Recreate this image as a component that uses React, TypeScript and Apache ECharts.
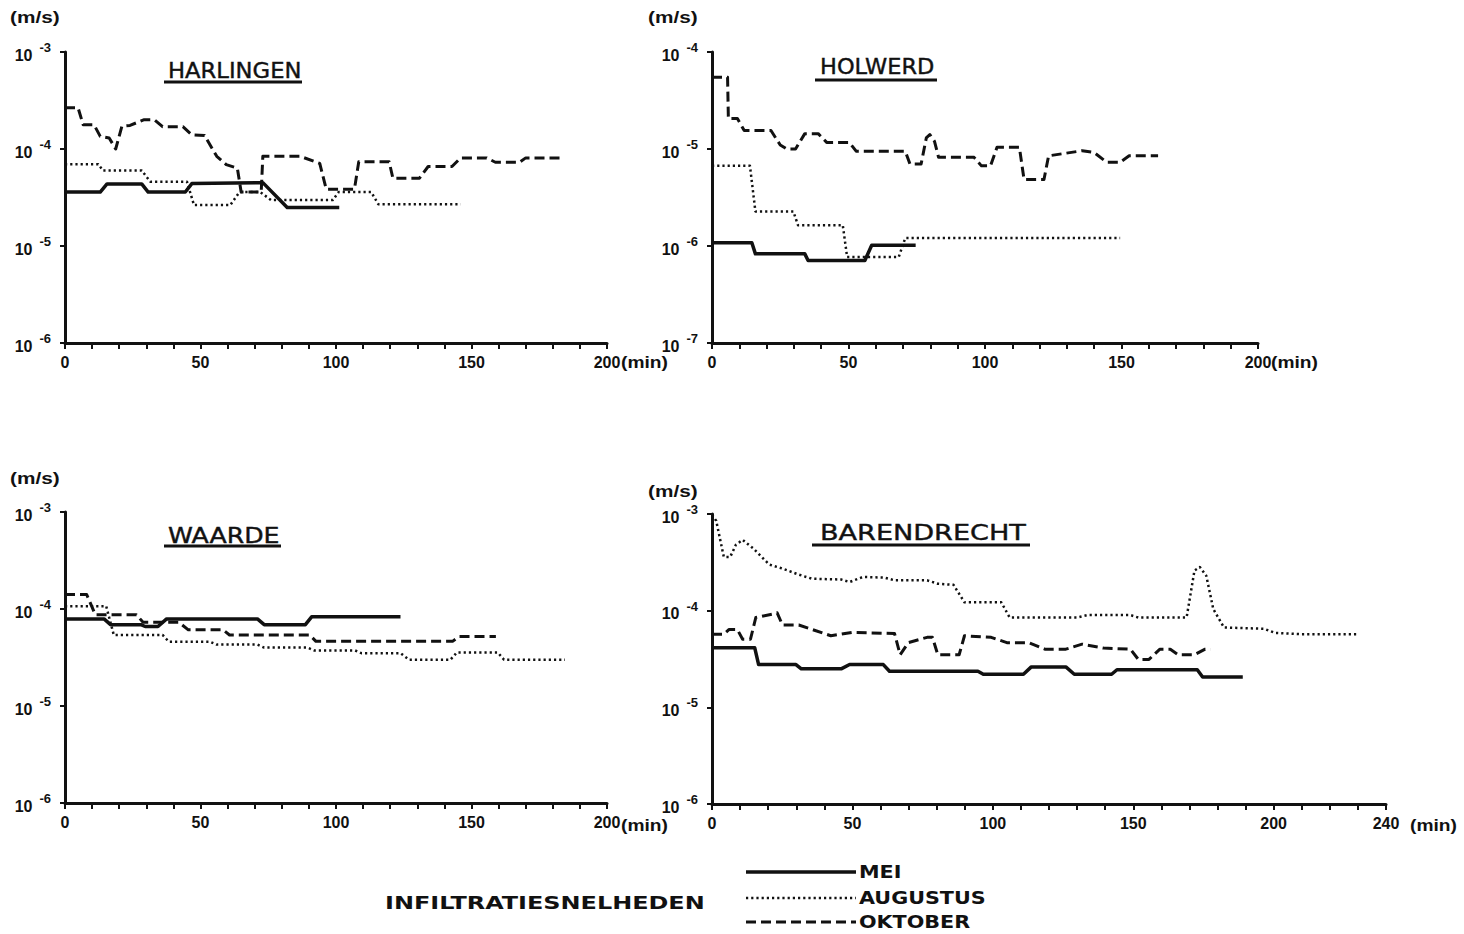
import React, { useEffect, useRef } from 'react';
import * as echarts from 'echarts';

type Pt = [number, number];

// ---------- data (minutes, infiltration rate m/s) ----------
const panelTitles = ['HARLINGEN', 'HOLWERD', 'WAARDE', 'BARENDRECHT'];
const seriesNames = ['MEI', 'AUGUSTUS', 'OKTOBER'];
const xMaxima = [200, 200, 200, 240];
const yMinExp = [-6, -7, -6, -6];
const yMaxExp = [-3, -4, -3, -3];
const xLabelStep = 50;
const legendTitle = 'INFILTRATIESNELHEDEN';
const yUnit = '(m/s)';
const xUnit = '(min)';

const harlingenMei: Pt[] = [
  [0, 3.6e-5], [13, 3.6e-5], [15.5, 4.36e-5], [28.3, 4.36e-5], [30.7, 3.6e-5], [44.4, 3.6e-5],
  [46.8, 4.4e-5], [73, 4.5e-5], [82, 2.5e-5], [101.2, 2.5e-5],
];
const harlingenAugustus: Pt[] = [
  [0, 6.98e-5], [12.3, 6.98e-5], [14, 6.0e-5], [28.3, 6.0e-5], [31.5, 4.6e-5], [45, 4.6e-5],
  [47.6, 2.64e-5], [61, 2.64e-5], [64.4, 3.6e-5], [72, 3.6e-5], [76, 2.98e-5], [98.8, 2.98e-5],
  [101, 3.6e-5], [113, 3.6e-5], [115.6, 2.7e-5], [146, 2.7e-5],
];
const harlingenOktober: Pt[] = [
  [0, 2.67e-4], [4.8, 2.67e-4], [6.7, 1.78e-4], [10.7, 1.78e-4], [13, 1.35e-4], [16.3, 1.3e-4],
  [18.7, 1.0e-4], [21, 1.72e-4], [24, 1.75e-4], [29, 2.0e-4], [33, 2.0e-4], [36, 1.7e-4],
  [43.5, 1.7e-4], [46.8, 1.4e-4], [51.5, 1.38e-4], [56, 8.4e-5], [59.5, 6.9e-5], [63.6, 6.35e-5],
  [65, 3.6e-5], [72.4, 3.6e-5], [73, 8.4e-5], [86.8, 8.4e-5], [94, 7.1e-5], [96.4, 3.85e-5],
  [106.8, 3.85e-5], [108.4, 7.4e-5], [119.6, 7.4e-5], [121, 5.0e-5], [130.8, 5.0e-5],
  [134, 6.6e-5], [142.8, 6.6e-5], [146, 8.1e-5], [155.6, 8.1e-5], [158.8, 7.3e-5],
  [167.7, 7.3e-5], [170, 8.1e-5], [182.9, 8.1e-5],
];

const holwerdMei: Pt[] = [
  [0, 1.08e-6], [14.6, 1.08e-6], [15.9, 8.3e-7], [34, 8.3e-7], [35.2, 7.1e-7], [56, 7.1e-7],
  [58.5, 1.02e-6], [74.6, 1.02e-6],
];
const holwerdAugustus: Pt[] = [
  [0, 6.7e-6], [13.9, 6.7e-6], [15.9, 2.27e-6], [29.8, 2.27e-6], [31.5, 1.64e-6], [47.9, 1.64e-6],
  [49.5, 7.7e-7], [68.4, 7.7e-7], [70.8, 1.21e-6], [149.5, 1.21e-6],
];
const holwerdOktober: Pt[] = [
  [0, 5.5e-5], [5.7, 5.5e-5], [6, 2.06e-5], [9.3, 2.06e-5], [11.8, 1.55e-5], [21.6, 1.55e-5],
  [25, 1.1e-5], [27.4, 1.0e-5], [30.6, 1.0e-5], [34, 1.44e-5], [38.9, 1.44e-5], [42, 1.17e-5],
  [50.3, 1.17e-5], [52.8, 9.5e-6], [70.8, 9.5e-6], [72.5, 7.0e-6], [76.6, 7.0e-6], [78.5, 1.3e-5],
  [79.8, 1.41e-5], [81.5, 1.2e-5], [83, 8.2e-6], [96, 8.2e-6], [98.7, 6.7e-6], [102, 6.7e-6],
  [104.4, 1.04e-5], [112.6, 1.04e-5], [114.3, 4.85e-6], [121.6, 4.85e-6], [123.3, 8.5e-6],
  [135.6, 9.6e-6], [140, 9.2e-6], [144.6, 7.3e-6], [149.5, 7.3e-6], [152.8, 8.5e-6], [163.4, 8.5e-6],
];

const waardeMei: Pt[] = [
  [0, 7.9e-5], [14.4, 7.9e-5], [16.8, 6.9e-5], [28, 6.9e-5], [29.6, 6.6e-5], [34.3, 6.6e-5],
  [37.5, 7.9e-5], [71, 7.9e-5], [73.5, 6.9e-5], [88.7, 6.9e-5], [91, 8.3e-5], [123.8, 8.3e-5],
];
const waardeAugustus: Pt[] = [
  [0, 1.07e-4], [15.2, 1.07e-4], [18, 5.4e-5], [36, 5.4e-5], [38.3, 4.6e-5], [53.5, 4.6e-5],
  [55.9, 4.3e-5], [71, 4.3e-5], [73.5, 4.0e-5], [89.5, 4.0e-5], [91.9, 3.74e-5], [107, 3.74e-5],
  [109.4, 3.5e-5], [123.8, 3.5e-5], [127, 3.0e-5], [142.2, 3.0e-5], [144.6, 3.56e-5],
  [159.7, 3.56e-5], [162, 3.0e-5], [184.5, 3.0e-5],
];
const waardeOktober: Pt[] = [
  [0, 1.41e-4], [8, 1.41e-4], [11.2, 8.7e-5], [26.4, 8.7e-5], [28.8, 7.3e-5], [42, 7.3e-5],
  [45.5, 6.1e-5], [58.3, 6.1e-5], [60.7, 5.4e-5], [90.3, 5.4e-5], [92.6, 4.64e-5], [143, 4.64e-5],
  [145.4, 5.2e-5], [159, 5.2e-5],
];

const barendrechtMei: Pt[] = [
  [0, 4.14e-5], [15.2, 4.14e-5], [16.6, 2.77e-5], [29.9, 2.77e-5], [31.8, 2.5e-5], [46, 2.5e-5],
  [49, 2.77e-5], [61, 2.77e-5], [63.2, 2.36e-5], [94.7, 2.36e-5], [96.6, 2.2e-5], [110.9, 2.2e-5],
  [113.7, 2.62e-5], [126, 2.62e-5], [129, 2.2e-5], [142.3, 2.2e-5], [144.2, 2.45e-5],
  [172.8, 2.45e-5], [174.7, 2.06e-5], [189, 2.06e-5],
];
const barendrechtAugustus: Pt[] = [
  [0, 9.8e-4], [1.5, 8.5e-4], [4.2, 3.6e-4], [6.5, 3.6e-4], [8.5, 4.8e-4], [10.9, 5.4e-4],
  [14.7, 4.4e-4], [20.4, 3.0e-4], [25, 2.73e-4], [30.9, 2.36e-4], [35.6, 2.14e-4], [46, 2.1e-4],
  [49, 1.98e-4], [53.7, 2.23e-4], [61.3, 2.2e-4], [65, 2.06e-4], [76.6, 2.06e-4], [80.4, 1.9e-4],
  [86, 1.85e-4], [89.9, 1.22e-4], [103, 1.22e-4], [106, 8.5e-5], [130, 8.5e-5], [133.7, 9.0e-5],
  [149, 9.0e-5], [151.8, 8.5e-5], [169, 8.5e-5], [171.8, 2.6e-4], [173.7, 2.83e-4], [176, 2.3e-4],
  [178.5, 1.04e-4], [182.3, 6.7e-5], [196.6, 6.5e-5], [200.4, 5.9e-5], [210, 5.7e-5], [229.9, 5.7e-5],
];
const barendrechtOktober: Pt[] = [
  [0, 5.7e-5], [4.2, 5.7e-5], [6.1, 6.4e-5], [9, 6.4e-5], [10.9, 5.06e-5], [13.7, 5.06e-5],
  [15.6, 8.5e-5], [21.3, 9.2e-5], [23.2, 9.5e-5], [25.1, 7.1e-5], [30.9, 7.1e-5], [35.6, 6.4e-5],
  [42.3, 5.5e-5], [49.9, 5.95e-5], [65, 5.8e-5], [67, 3.5e-5], [69.9, 4.67e-5], [76.6, 5.3e-5],
  [78.5, 5.3e-5], [80.4, 3.5e-5], [88, 3.5e-5], [89.9, 5.5e-5], [99.4, 5.3e-5], [105, 4.67e-5],
  [112.8, 4.67e-5], [118.5, 4.0e-5], [126, 4.0e-5], [131.8, 4.5e-5], [139.4, 4.1e-5], [149, 4.0e-5],
  [151.8, 3.13e-5], [155.6, 3.13e-5], [159.4, 3.98e-5], [163.2, 3.98e-5], [166, 3.5e-5],
  [171.8, 3.5e-5], [175.6, 4.0e-5], [177.5, 4.0e-5],
];

const panelData: Pt[][][] = [
  [harlingenMei, harlingenAugustus, harlingenOktober],
  [holwerdMei, holwerdAugustus, holwerdOktober],
  [waardeMei, waardeAugustus, waardeOktober],
  [barendrechtMei, barendrechtAugustus, barendrechtOktober],
];

// ---------- layout & style ----------
const INK = '#111';
const NUM_FONT = 'Liberation Sans';
const TITLE_FONT = 'DejaVu Sans';

const grids = [
  { left: 65, top: 52, width: 542, height: 291 },
  { left: 712, top: 52, width: 546, height: 291 },
  { left: 65, top: 512, width: 542, height: 291 },
  { left: 712, top: 514, width: 674, height: 290 },
];

const lineStyles: Record<string, { width: number; type: any }> = {
  MEI: { width: 3.5, type: 'solid' },
  AUGUSTUS: { width: 2.5, type: [2.2, 3] },
  OKTOBER: { width: 3, type: [10, 5] },
};

const titleLayout = [
  { x: 168, y: 71, scaleX: 1.08, ux1: 164, ux2: 302, uy: 82 },
  { x: 820, y: 67, scaleX: 1.07, ux1: 815, ux2: 937, uy: 80 },
  { x: 168, y: 535, scaleX: 1.2, ux1: 164, ux2: 281, uy: 546 },
  { x: 820, y: 533, scaleX: 1.29, ux1: 812, ux2: 1030, uy: 545 },
];
const unitLayout = [
  { x: 10, y: 17 }, { x: 648, y: 17 }, { x: 10, y: 478 }, { x: 648, y: 491 },
];
const minLayout = [
  { x: 621, y: 363 }, { x: 1271, y: 363 }, { x: 621, y: 826 }, { x: 1410, y: 826 },
];

function buildOption() {
  const xAxis: any[] = [];
  const yAxis: any[] = [];
  const series: any[] = [];
  const graphic: any[] = [];

  grids.forEach((g, i) => {
    const xMax = xMaxima[i];
    xAxis.push({
      type: 'value', gridIndex: i, min: 0, max: xMax, interval: 10,
      axisLine: { show: true, onZero: false, lineStyle: { color: INK, width: 3 } },
      axisTick: { show: true, length: 6, lineStyle: { color: INK, width: 2 } },
      axisLabel: {
        formatter: (v: number) => (v % xLabelStep === 0 || v === xMax ? String(v) : ''),
        margin: 11, color: INK, fontFamily: NUM_FONT, fontWeight: 'bold', fontSize: 16,
        showMinLabel: true, showMaxLabel: true,
      },
      splitLine: { show: false },
    });
    yAxis.push({
      type: 'log', logBase: 10, gridIndex: i,
      min: Math.pow(10, yMinExp[i]), max: Math.pow(10, yMaxExp[i]),
      axisLine: { show: true, lineStyle: { color: INK, width: 3 } },
      axisTick: { show: true, length: 5, lineStyle: { color: INK, width: 2 } },
      axisLabel: {
        margin: 14,
        formatter: (v: number) => `{b|10}{s|${Math.round(Math.log10(v))}}`,
        rich: {
          b: { fontFamily: NUM_FONT, fontWeight: 'bold', fontSize: 16, color: INK, lineHeight: 22, verticalAlign: 'bottom' },
          s: { fontFamily: NUM_FONT, fontWeight: 'bold', fontSize: 13, color: INK, lineHeight: 22, verticalAlign: 'top', padding: [0, 0, 0, 7] },
        },
      },
      splitLine: { show: false },
    });
    seriesNames.forEach((name, k) => {
      const ls = lineStyles[name];
      series.push({
        name, type: 'line', xAxisIndex: i, yAxisIndex: i,
        data: panelData[i][k], showSymbol: false, symbol: 'none', silent: true,
        lineStyle: { color: INK, width: ls.width, type: ls.type, cap: 'butt', join: 'round' },
        emphasis: { disabled: true },
        z: 3,
      });
    });

    const t = titleLayout[i];
    graphic.push({
      type: 'text', x: t.x, y: t.y, scaleX: t.scaleX,
      style: { text: panelTitles[i], fontFamily: TITLE_FONT, fontSize: 21, fontWeight: 'normal', fill: INK, stroke: INK, lineWidth: 0.4, align: 'left', verticalAlign: 'middle' },
    });
    graphic.push({
      type: 'line', shape: { x1: t.ux1, y1: t.uy, x2: t.ux2, y2: t.uy },
      style: { stroke: INK, lineWidth: 3 },
    });
    const u = unitLayout[i];
    graphic.push({
      type: 'text', x: u.x, y: u.y, scaleX: 1.3,
      style: { text: yUnit, fontFamily: NUM_FONT, fontWeight: 'bold', fontSize: 16, fill: INK, align: 'left', verticalAlign: 'middle' },
    });
    const m = minLayout[i];
    graphic.push({
      type: 'text', x: m.x, y: m.y, scaleX: 1.2,
      style: { text: xUnit, fontFamily: NUM_FONT, fontWeight: 'bold', fontSize: 16, fill: INK, align: 'left', verticalAlign: 'middle' },
    });
  });

  // legend
  graphic.push({
    type: 'text', x: 385, y: 903, scaleX: 1.33,
    style: { text: legendTitle, fontFamily: TITLE_FONT, fontSize: 18, fontWeight: 'bold', fill: INK, align: 'left', verticalAlign: 'middle' },
  });
  const legendY = [872, 898, 922];
  seriesNames.forEach((name, k) => {
    const ls = lineStyles[name];
    graphic.push({
      type: 'line', shape: { x1: 746, y1: legendY[k], x2: 856, y2: legendY[k] },
      style: { stroke: INK, lineWidth: ls.width, lineDash: Array.isArray(ls.type) ? ls.type : null },
    });
    graphic.push({
      type: 'text', x: 859, y: legendY[k], scaleX: 1.15,
      style: { text: name, fontFamily: TITLE_FONT, fontSize: 18, fontWeight: 'bold', fill: INK, align: 'left', verticalAlign: 'middle' },
    });
  });

  return {
    animation: false,
    backgroundColor: '#fff',
    grid: grids.map((g) => ({ ...g, containLabel: false })),
    xAxis, yAxis, series, graphic,
  };
}

export default function App() {
  const ref = useRef<HTMLDivElement>(null);
  useEffect(() => {
    if (!ref.current) return;
    const chart = echarts.init(ref.current, undefined, { renderer: 'svg' });
    chart.setOption(buildOption() as any);
    return () => chart.dispose();
  }, []);
  return (
    <div
      ref={ref}
      style={{ position: 'absolute', left: 0, top: 0, width: 1464, height: 934, background: '#fff' }}
    />
  );
}
